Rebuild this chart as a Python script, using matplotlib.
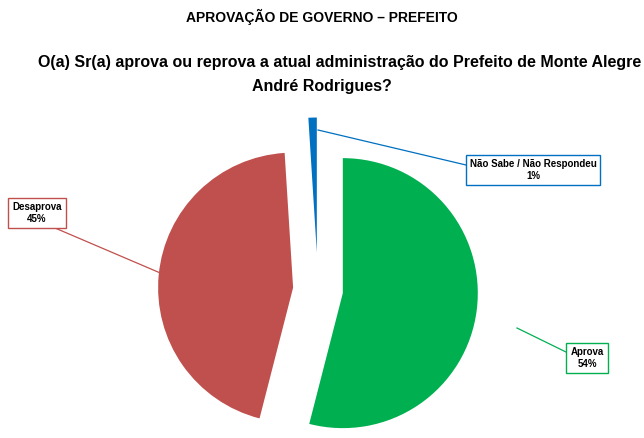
import matplotlib
matplotlib.use("Agg")
import matplotlib.pyplot as plt

labels = ["Aprova", "Desaprova", "Não Sabe / Não Respondeu"]
values = [54, 45, 1]
colors = ["#00B050", "#C0504D", "#0070C0"]
explode = [0.2, 0.2, 0.3]

plt.rcParams['font.family'] = ['Liberation Sans', 'DejaVu Sans']
W, H = 644, 438
fig = plt.figure(figsize=(W/100, H/100), dpi=100)
fig.text(322/W, 1-17/H, "APROVAÇÃO DE GOVERNO – PREFEITO", ha='center', va='center',
         fontsize=10, fontweight='bold')
fig.text(38/W, 1-62/H, "O(a) Sr(a) aprova ou reprova a atual administração do Prefeito de Monte Alegre",
         ha='left', va='center', fontsize=11.5, fontweight='bold')
fig.text(322/W, 1-86/H, "André Rodrigues?", ha='center', va='center', fontsize=11.5, fontweight='bold')

cx, cy, size = 318, 290, 400
ax = fig.add_axes([(cx-size/2)/W, (H-cy-size/2)/H, size/W, size/H])
ax.pie(values, colors=colors, explode=explode, startangle=90, counterclock=False,
       radius=1.08, wedgeprops=dict(linewidth=0))
ax.set_xlim(-1.6, 1.6); ax.set_ylim(-1.6, 1.6); ax.set_aspect('equal'); ax.axis('off')

def px(x, y):
    return ((x-cx)/125, (cy-y)/125)

boxes = [
    (labels[0] + "\n" + f"{values[0]}%", px(587, 358), px(517, 328), px(566, 352), colors[0]),
    (labels[1] + "\n" + f"{values[1]}%", px(37, 213), px(165, 275), px(55, 228), colors[1]),
    (labels[2] + "\n" + f"{values[2]}%", px(533, 170), px(318, 130), px(466, 165), colors[2]),
]
for txt, pos, tip, edge, c in boxes:
    ax.plot([tip[0], edge[0]], [tip[1], edge[1]], color=c, lw=0.9, clip_on=False)
    ax.text(pos[0], pos[1], txt, ha='center', va='center', fontsize=7, fontweight='bold',
            linespacing=1.3,
            bbox=dict(boxstyle='square,pad=0.4', fc='white', ec=c, lw=1), clip_on=False)

fig.savefig("out.png", dpi=100)
